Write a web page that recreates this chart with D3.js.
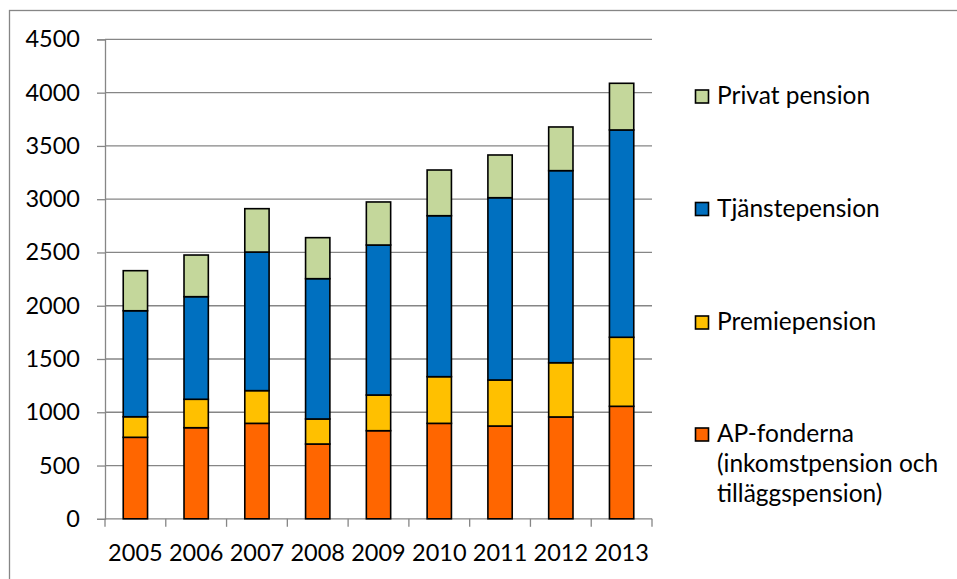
<!DOCTYPE html>
<html>
<head>
<meta charset="utf-8">
<script src="https://cdn.jsdelivr.net/npm/d3@7"></script>
<style>
  body { margin: 0; background: #fff; }
  text { font-family: Lato, "Open Sans", sans-serif; fill: #000; }
</style>
</head>
<body>
<svg id="chart"></svg>
<script>
// Data
const years = ["2005", "2006", "2007", "2008", "2009", "2010", "2011", "2012", "2013"]
const apFonderna = [765, 855, 896, 702, 827, 896, 871, 956, 1056]
const premiepension = [193, 267, 307, 235, 335, 438, 432, 509, 648]
const tjanstepension = [995, 963, 1301, 1317, 1408, 1511, 1711, 1803, 1946]
const privatPension = [376, 391, 407, 385, 404, 429, 401, 410, 438]
const yTicks = [0, 500, 1000, 1500, 2000, 2500, 3000, 3500, 4000, 4500]

const seriesNames = ["AP-fonderna", "Premiepension", "Tjänstepension", "Privat pension"]
const seriesColors = ["#FF6600", "#FFC000", "#0070C0", "#C4D79B"]
const legendLabels = [
  ["Privat pension"],
  ["Tjänstepension"],
  ["Premiepension"],
  ["AP-fonderna", "(inkomstpension och", "tilläggspension)"]
]
const legendColors = ["#C4D79B", "#0070C0", "#FFC000", "#FF6600"]

// Dimensions
const totalW = 957
const totalH = 579
const plot = { left: 105, right: 652, top: 39.4, bottom: 518.8 }

const table = years.map((y, i) => ({
  year: y,
  "AP-fonderna": apFonderna[i],
  "Premiepension": premiepension[i],
  "Tjänstepension": tjanstepension[i],
  "Privat pension": privatPension[i]
}))
const stacked = d3.stack().keys(seriesNames)(table)

// Scales
const xScale = d3.scaleBand()
  .domain(years)
  .range([plot.left, plot.right])
  .paddingInner(0.6)
  .paddingOuter(0.3)
const yScale = d3.scaleLinear()
  .domain([0, 4500])
  .range([plot.bottom, plot.top])

// DOM
const svg = d3.select("#chart")
  .attr("width", totalW)
  .attr("height", totalH)

// outer frame
svg.append("rect")
  .attr("x", 9.5)
  .attr("y", 10.5)
  .attr("width", 960)
  .attr("height", 600)
  .attr("fill", "none")
  .attr("stroke", "#868686")
  .attr("stroke-width", 1.3)

// gridlines
svg.append("g")
  .selectAll("line")
  .data(yTicks.filter(d => d > 0))
  .enter()
  .append("line")
  .attr("x1", plot.left)
  .attr("x2", plot.right)
  .attr("y1", d => yScale(d))
  .attr("y2", d => yScale(d))
  .attr("stroke", "#868686")
  .attr("stroke-width", 1.3)

// y axis
const yAxis = d3.axisLeft(yScale)
  .tickValues(yTicks)
  .tickFormat(d3.format("d"))
  .tickSize(8)
  .tickPadding(17)
const yG = svg.append("g")
  .attr("transform", `translate(${plot.left}, 0)`)
  .call(yAxis)
yG.select(".domain").attr("stroke", "#868686").attr("stroke-width", 1.3)
yG.selectAll(".tick line").attr("stroke", "#868686").attr("stroke-width", 1.3)
yG.selectAll("text")
  .attr("font-size", 23.5)
  .attr("font-family", "Lato, 'Open Sans', sans-serif")
  .attr("fill", "#000")

// x axis
const xAxis = d3.axisBottom(xScale).tickSize(0).tickPadding(26)
const xG = svg.append("g")
  .attr("transform", `translate(0, ${plot.bottom})`)
  .call(xAxis)
xG.select(".domain").remove()
xG.selectAll("text")
  .attr("font-size", 23.5)
  .attr("font-family", "Lato, 'Open Sans', sans-serif")
  .attr("fill", "#000")

svg.append("line")
  .attr("x1", plot.left)
  .attr("x2", plot.right)
  .attr("y1", plot.bottom)
  .attr("y2", plot.bottom)
  .attr("stroke", "#868686")
  .attr("stroke-width", 1.3)

// category boundary ticks
const step = xScale.step()
svg.append("g")
  .selectAll("line")
  .data(d3.range(years.length + 1))
  .enter()
  .append("line")
  .attr("x1", i => plot.left + i * step)
  .attr("x2", i => plot.left + i * step)
  .attr("y1", plot.bottom)
  .attr("y2", plot.bottom + 8)
  .attr("stroke", "#868686")
  .attr("stroke-width", 1.3)

// Stacked bars
const layers = svg.append("g")
  .selectAll("g")
  .data(stacked)
  .enter()
  .append("g")
  .attr("fill", (d, i) => seriesColors[i])

layers.selectAll("rect")
  .data(d => d)
  .enter()
  .append("rect")
  .attr("x", d => xScale(d.data.year))
  .attr("y", d => yScale(d[1]))
  .attr("width", xScale.bandwidth())
  .attr("height", d => yScale(d[0]) - yScale(d[1]))
  .attr("stroke", "#000")
  .attr("stroke-width", 1.6)

// Legend
const legendY = [104, 216.5, 330, 442]
const legend = svg.append("g")
  .selectAll("g")
  .data(legendLabels)
  .enter()
  .append("g")
  .attr("transform", (d, i) => `translate(0, ${legendY[i]})`)

legend.append("rect")
  .attr("x", 695.5)
  .attr("y", -14)
  .attr("width", 13)
  .attr("height", 13)
  .attr("fill", (d, i) => legendColors[i])
  .attr("stroke", "#000")
  .attr("stroke-width", 1.6)

legend.append("text")
  .attr("x", 717)
  .attr("y", 0)
  .attr("font-size", 24.5)
  .selectAll("tspan")
  .data(d => d)
  .enter()
  .append("tspan")
  .attr("x", 717)
  .attr("dy", (d, i) => i === 0 ? 0 : 30)
  .text(d => d)
</script>
</body>
</html>
